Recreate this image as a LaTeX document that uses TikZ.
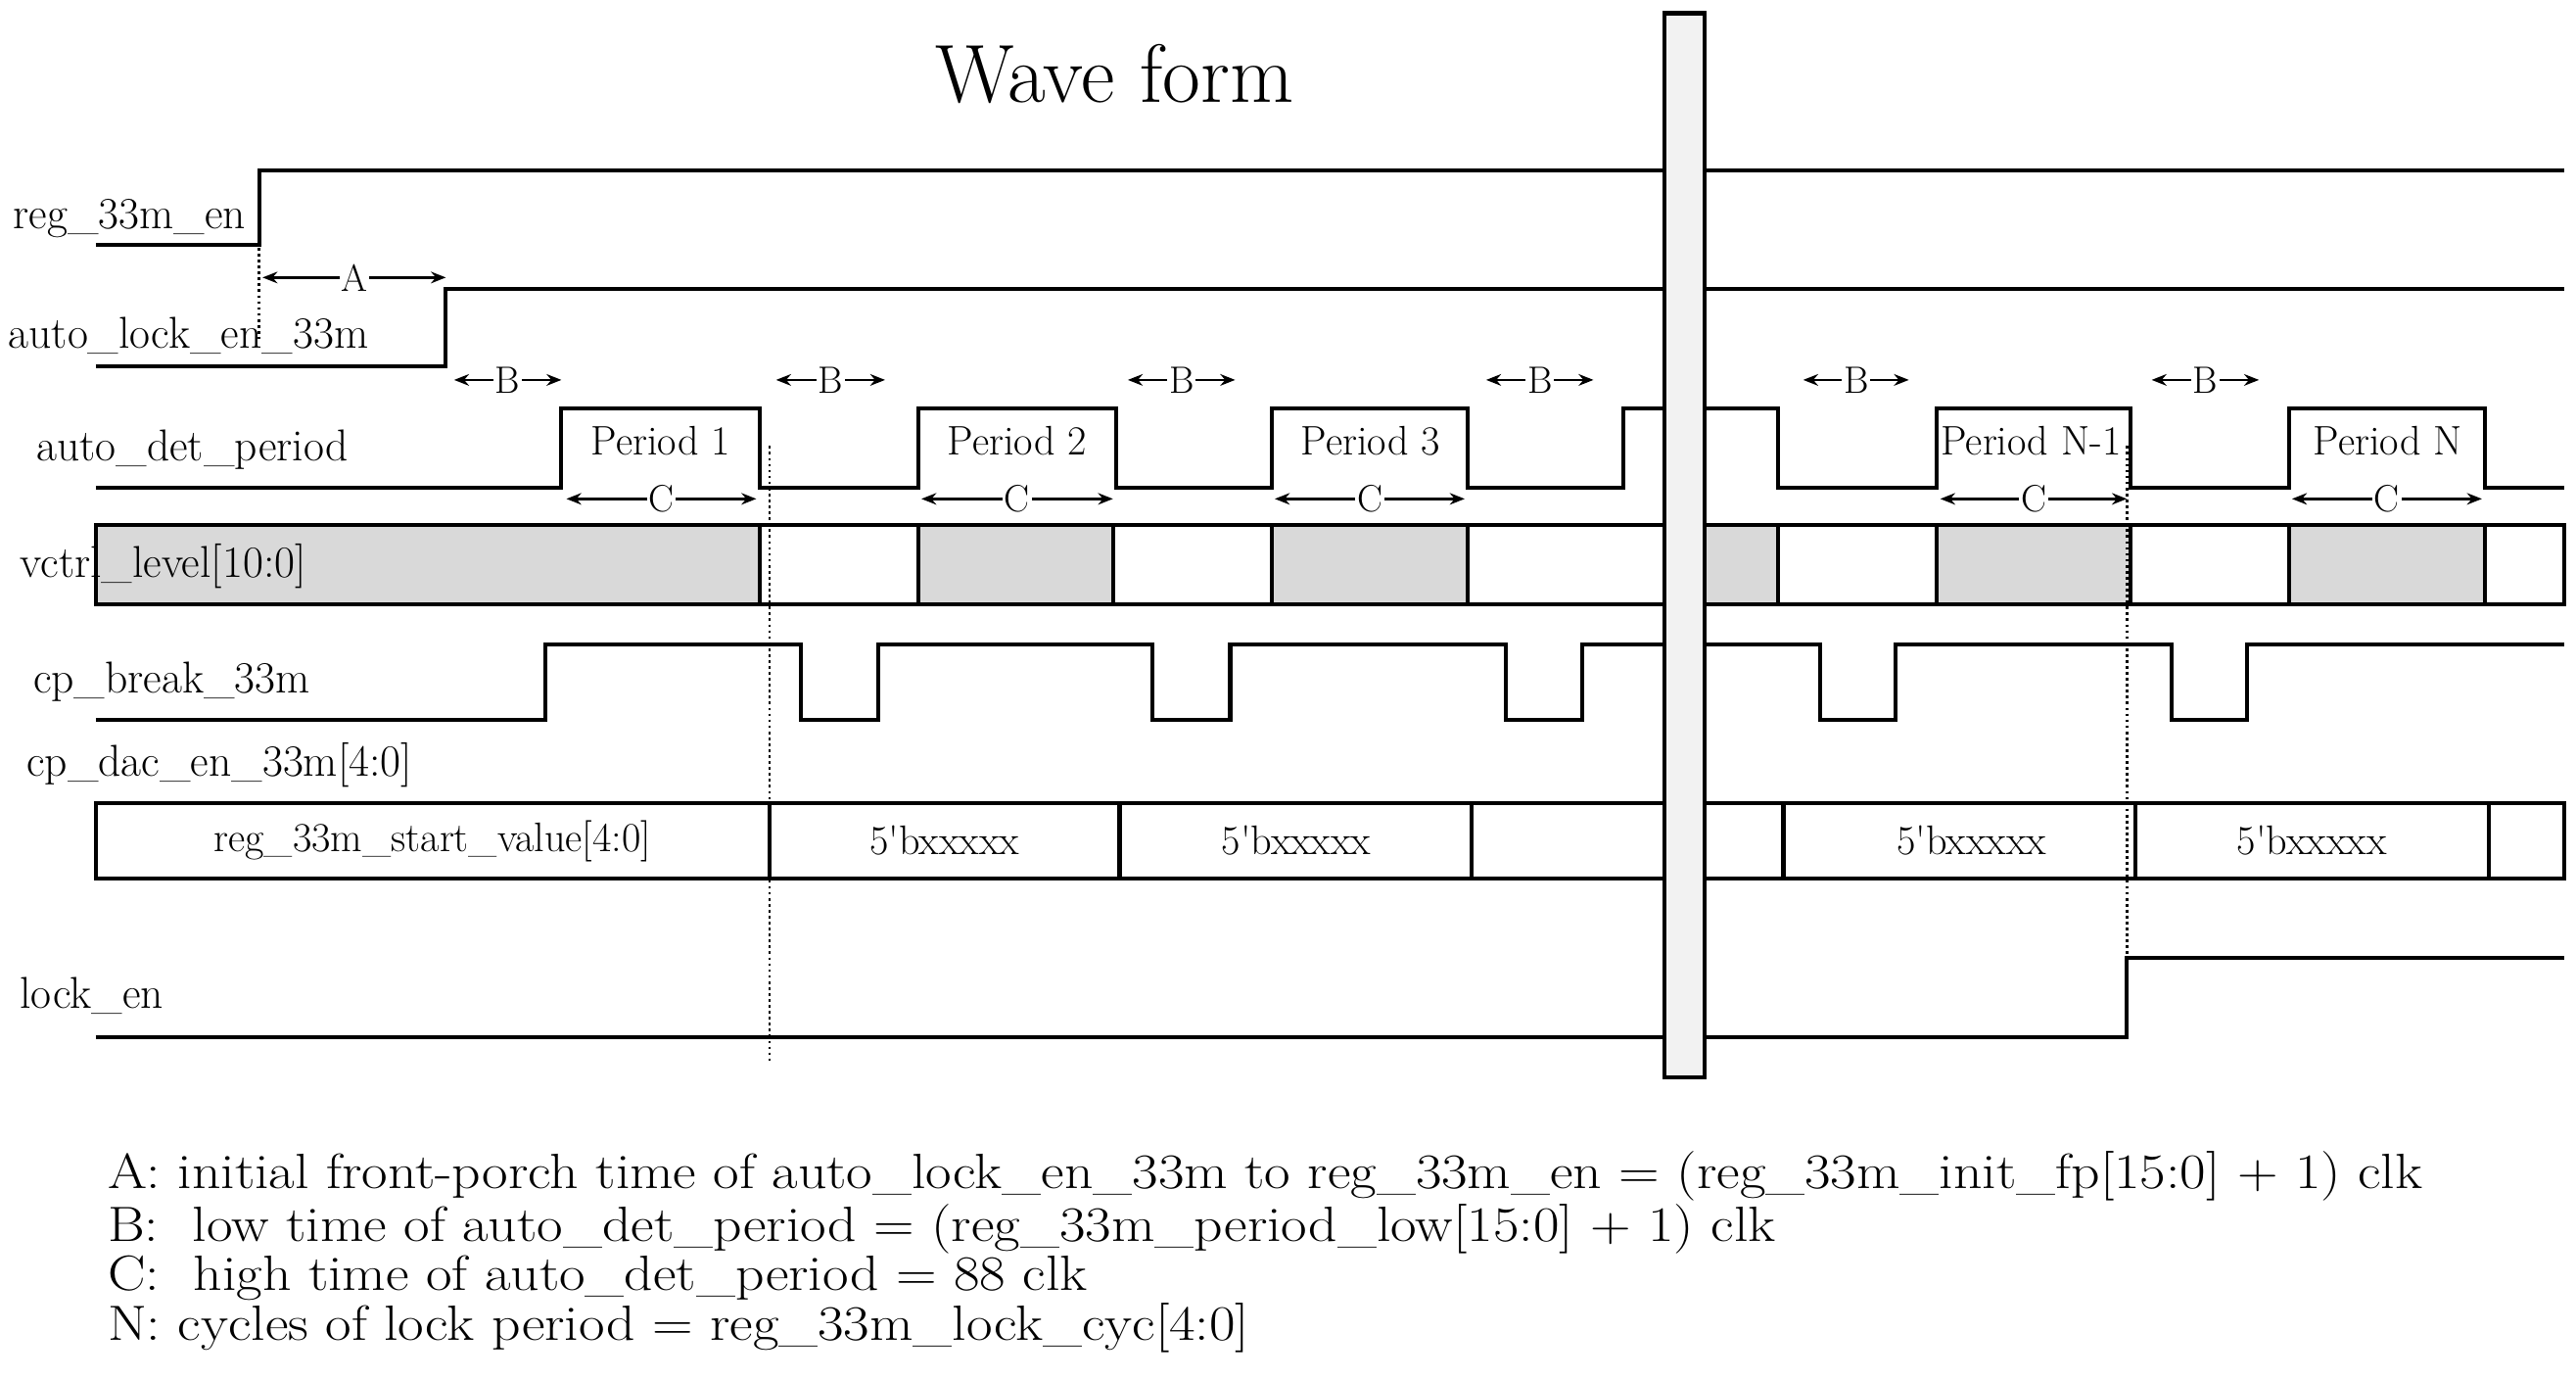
\documentclass[tikz,border=0pt]{standalone}
\usetikzlibrary{arrows.meta}
\begin{document}
\begin{tikzpicture}[x=1pt,y=-1pt,
  sig/.style={line width=2.4pt},
  lab/.style={anchor=west,inner sep=0pt,font=\fontsize{27}{30}\selectfont},
  dim/.style={line width=1.6pt,{Stealth[length=9pt,width=7pt]}-{Stealth[length=9pt,width=7pt]}},
  dl/.style={fill=white,inner sep=1pt,font=\fontsize{23}{25}\selectfont},
  per/.style={inner sep=0pt,font=\fontsize{25}{28}\selectfont},
  bus/.style={inner sep=0pt,font=\fontsize{25}{28}\selectfont},
  dot/.style={line width=1.6pt,dotted}]
\useasboundingbox (0,0) rectangle (1560,835);
\node[inner sep=0pt,font=\fontsize{50}{55}\selectfont] (title) at (675,45) {Wave form};
% labels
\node[lab] (l1) at (8,132) {reg\_33m\_en};
\node[lab] (l2) at (5,203) {auto\_lock\_en\_33m};
\node[lab] (l3) at (22,272) {auto\_det\_period};
\node[lab] (l5) at (20,413) {cp\_break\_33m};
\node[lab] (l6) at (16,463) {cp\_dac\_en\_33m[4:0]};
\node[lab] (l7) at (12,603) {lock\_en};
% vctrl box
\fill[gray!30] (58,318) rectangle (460,366);
\foreach \a/\b in {556/674,770/889,1032/1077,1173/1290,1386/1505}
  \fill[gray!30] (\a,318) rectangle (\b,366);
\draw[sig] (58,318) rectangle (1553,366);
\foreach \x in {460,556,674,770,889,1077,1173,1290,1386,1505}
  \draw[sig] (\x,318) -- (\x,366);
\node[lab] (l4) at (12,343) {vctrl\_level[10:0]};
% signals
\draw[sig] (58,148) -- (157,148) -- (157,103) -- (1553,103);
\draw[sig] (58,222) -- (270,222) -- (270,175) -- (1553,175);
\draw[sig] (58,295) -- (340,295) -- (340,247) -- (460,247) -- (460,295) -- (556,295) -- (556,247) -- (676,247) -- (676,295)
  -- (770,295) -- (770,247) -- (889,247) -- (889,295) -- (983,295) -- (983,247) -- (1077,247) -- (1077,295)
  -- (1173,295) -- (1173,247) -- (1290,247) -- (1290,295) -- (1386,295) -- (1386,247) -- (1505,247) -- (1505,295) -- (1553,295);
\draw[sig] (58,436) -- (330,436) -- (330,390) -- (485,390) -- (485,436) -- (532,436) -- (532,390) -- (698,390) -- (698,436)
  -- (745,436) -- (745,390) -- (912,390) -- (912,436) -- (958,436) -- (958,390) -- (1102,390) -- (1102,436)
  -- (1148,436) -- (1148,390) -- (1315,390) -- (1315,436) -- (1361,436) -- (1361,390) -- (1553,390);
\draw[sig] (58,486) rectangle (1553,532);
\foreach \x in {466,678,891,1080,1293,1507}
  \draw[sig] (\x,486) -- (\x,532);
\draw[sig] (58,628) -- (1288,628) -- (1288,580) -- (1553,580);
% bus texts
\node[bus] (b0) at (262,509) {reg\_33m\_start\_value[4:0]};
\node[bus] (b1) at (572,509) {5\textquotesingle bxxxxx};
\node[bus] (b2) at (785,509) {5\textquotesingle bxxxxx};
\node[bus] (b3) at (1194,509) {5\textquotesingle bxxxxx};
\node[bus] (b4) at (1400,509) {5\textquotesingle bxxxxx};
% period texts
\node[per] (p1) at (400,267) {Period 1};
\node[per] (p2) at (616,267) {Period 2};
\node[per] (p3) at (830,267) {Period 3};
\node[per] (p4) at (1230,267) {Period N-1};
\node[per] (p5) at (1446,267) {Period N};
% dotted
\draw[dot] (157,150) -- (157,205);
\draw[dot] (466,270) -- (466,642);
\draw[dot] (1288,270) -- (1288,578);
% dimension arrows
\coordinate (a1) at (159,168); \coordinate (a2) at (270,168);
\draw[dim] (a1) -- (a2) node[midway,dl] {A};
\foreach \a/\b in {275/340,470/536,683/748,900/965,1092/1156,1303/1368}
  \draw[dim] (\a,230) -- (\b,230) node[midway,dl] {B};
\foreach \a/\b in {343/458,558/674,772/887,1175/1288,1388/1503}
  \draw[dim] (\a,302) -- (\b,302) node[midway,dl] {C};
% break bar
\draw[line width=2.4pt,fill=gray!10] (1008,8) rectangle (1032,652);
% legend
\begin{scope}[every node/.style={anchor=west,inner sep=0pt,xscale=1.14,font=\fontsize{30}{32}\selectfont}]
\node (n1) at (65,712) {A: initial front-porch time of auto\_lock\_en\_33m to reg\_33m\_en = (reg\_33m\_init\_fp[15:0] + 1) clk};
\node (n2) at (65,744) {B:\ \ low time of auto\_det\_period = (reg\_33m\_period\_low[15:0] + 1) clk};
\node (n3) at (65,774) {C:\ \ high time of auto\_det\_period = 88 clk};
\node (n4) at (65,804) {N: cycles of lock period = reg\_33m\_lock\_cyc[4:0]};
\end{scope}
\end{tikzpicture}
\end{document}
